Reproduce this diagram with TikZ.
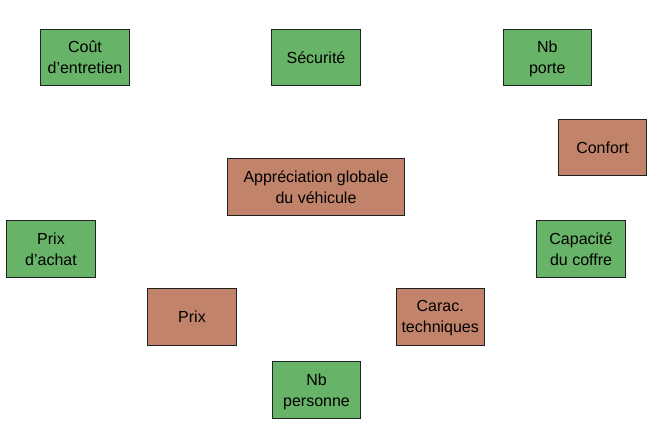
\documentclass[tikz,border=0pt]{standalone}
\usepackage{fontspec}
\setmainfont{Liberation Sans}
\definecolor{boxgreen}{HTML}{67B367}
\definecolor{boxbrown}{HTML}{C1846A}
\definecolor{boxline}{HTML}{222222}
\begin{document}
\begin{tikzpicture}[x=1pt,y=-1pt,
  base/.style={draw=boxline,line width=0.9pt,minimum height=56.5pt,inner sep=0pt,align=center,font=\fontsize{16}{21}\selectfont,text depth=0pt},
  gbox/.style={base,fill=boxgreen,minimum width=88.5pt},
  bbox/.style={base,fill=boxbrown,minimum width=88.5pt}]
\useasboundingbox (0,0) rectangle (652,422);
\node[gbox] (cout) at (85,57.3) {Coût\\d’entretien};
\node[gbox] (secu) at (316,57.3) {Sécurité};
\node[gbox] (porte) at (547.3,57.3) {Nb\\porte};
\node[bbox] (confort) at (602.5,147.3) {Confort};
\node[bbox,minimum width=176.5pt] (global) at (316,186.7) {Appréciation globale\\du véhicule};
\node[gbox] (achat) at (51,249) {Prix\\d’achat};
\node[gbox] (coffre) at (581,249) {Capacité\\du coffre};
\node[bbox] (prix) at (192,317) {Prix};
\node[bbox] (carac) at (440.2,316.7) {Carac.\\techniques};
\node[gbox] (pers) at (316.5,389.7) {Nb\\personne};
\end{tikzpicture}
\end{document}
